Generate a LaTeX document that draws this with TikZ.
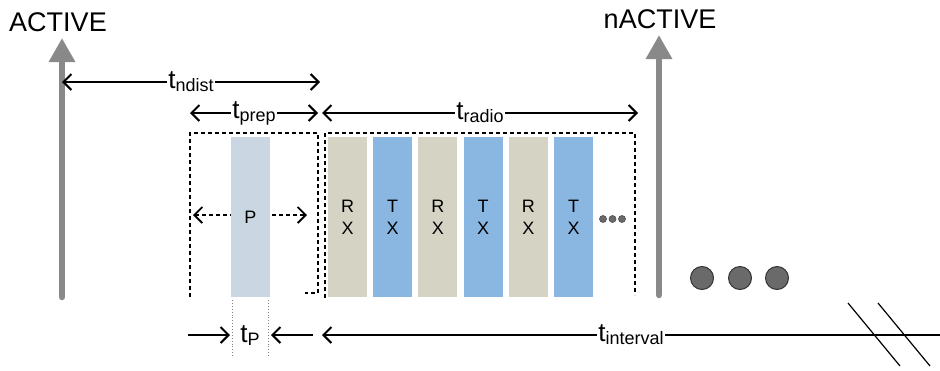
\documentclass[tikz,border=0pt]{standalone}
\usepackage{fontspec}
\setmainfont{Liberation Sans}
\usetikzlibrary{arrows.meta}
\definecolor{rxcol}{HTML}{D4D3C4}
\definecolor{txcol}{HTML}{8AB6E2}
\definecolor{pcol}{HTML}{CAD6E1}
\definecolor{barcol}{HTML}{898989}
\definecolor{dotcol}{HTML}{6A6A6A}
\newcommand{\tsub}[1]{t\raisebox{-3pt}{\fontsize{18}{18}\selectfont #1}}
\tikzset{>={Straight Barb[length=8pt,width=16pt]},
    dim/.style={line width=2pt},
    lbl/.style={fill=white, inner sep=1pt, font=\fontsize{26}{26}\selectfont},
    bar/.style={draw=barcol, line width=6.5pt, line cap=round, -{Triangle[length=24pt,width=25pt]}},
    slot/.style={minimum width=39pt, minimum height=160pt, inner sep=0pt, align=center, font=\fontsize{18}{22}\selectfont},
    frame/.style={line width=2.4pt, dash pattern=on 4pt off 3pt},
    bigdot/.style={circle, fill=dotcol, draw=black!80, line width=1pt, minimum size=23pt, inner sep=0pt},
    smalldot/.style={circle, fill=dotcol, draw=black!70, line width=0.6pt, minimum size=7pt, inner sep=0pt}}

\begin{document}
\begin{tikzpicture}[x=1pt, y=-1pt]
    \useasboundingbox (0,0) rectangle (940,370);
    \node[font=\fontsize{27}{27}\selectfont] (active) at (58,22) {ACTIVE};
    \node[font=\fontsize{27}{27}\selectfont] (nactive) at (660,19) {nACTIVE};
    \coordinate (actbot) at (62,297);
    \coordinate (acttop) at (62,38);
    \coordinate (nactbot) at (659,295);
    \coordinate (nacttop) at (659,35);
    \draw[bar] (actbot) -- (acttop);
    \draw[bar] (nactbot) -- (nacttop);

    \coordinate (nd0) at (62,82);
    \coordinate (nd1) at (320,82);
    \coordinate (pr0) at (190,113);
    \coordinate (pr1) at (318,113);
    \coordinate (ra0) at (322,113);
    \coordinate (ra1) at (638,113);
    \draw[dim, <->] (nd0) -- node[lbl] {\tsub{ndist}} (nd1);
    \draw[dim, <->] (pr0) -- node[lbl] {\tsub{prep}} (pr1);
    \draw[dim, <->] (ra0) -- node[lbl] {\tsub{radio}} (ra1);

    \draw[frame] (190,297) -- (190,133) -- (318,133) -- (318,293) -- (305,293);
    \draw[frame] (325,298) -- (325,133) -- (635,133) -- (635,295);

    \coordinate (pl) at (193,215);
    \coordinate (pr) at (307,215);
    \draw[line width=1.8pt, dash pattern=on 4pt off 3pt, <->] (pl) -- (pr);
    \node[slot, fill=pcol] (pbox) at (250.5,217) {P};
    \foreach \k/\c/\a in {0/rxcol/R, 1/txcol/T, 2/rxcol/R, 3/txcol/T, 4/rxcol/R, 5/txcol/T}
        \node[slot, fill=\c] (slot\k) at ({347.5+45.2*\k},217) {\a\\X};
    \foreach \x in {603,612.5,622}
        \node[smalldot] at (\x,219) {};
    \foreach \x/\n in {702/1,740/2,777/3}
        \node[bigdot] (more\n) at (\x,278) {};

    \draw[gray, dotted, line width=0.9pt] (232,300) -- (232,357);
    \draw[gray, dotted, line width=0.9pt] (268,300) -- (268,357);
    \coordinate (tpl0) at (188,335);
    \coordinate (tpl1) at (230,335);
    \coordinate (tpr0) at (313,335);
    \coordinate (tpr1) at (271,335);
    \draw[dim, ->] (tpl0) -- (tpl1);
    \draw[dim, ->] (tpr0) -- (tpr1);
    \node[font=\fontsize{26}{26}\selectfont] (tp) at (250,336) {\tsub{P}};
    \coordinate (iv0) at (322,335);
    \coordinate (iv1) at (940,335);
    \draw[dim, <-] (iv0) -- node[lbl] {\tsub{interval}} (iv1);

    \draw[line width=1.2pt] (848,303) -- (900,366);
    \draw[line width=1.2pt] (878,303) -- (930,366);
\end{tikzpicture}
\end{document}
